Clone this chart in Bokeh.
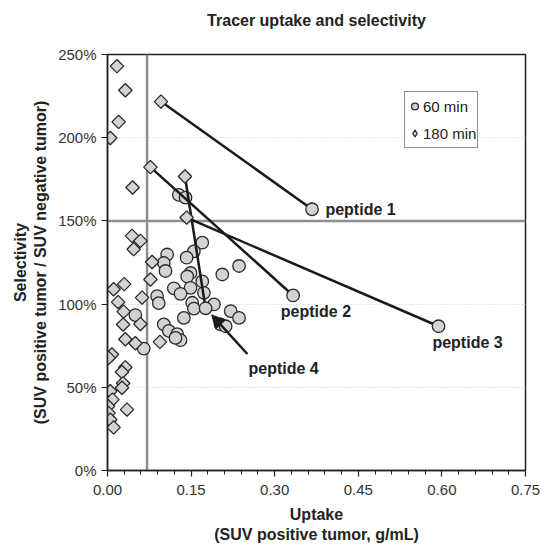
import numpy as np
from bokeh.plotting import figure
from bokeh.models import (Span, FixedTicker, NumeralTickFormatter, Legend, LegendItem,
                          Arrow, NormalHead, ColumnDataSource, Title)
from bokeh.core.properties import value
from bokeh.embed import file_html
from bokeh.resources import INLINE

FONT = "Liberation Sans"

# ---------------- data ----------------
# 60 min (circles), other tracers
x60 = [0.128, 0.140, 0.170, 0.155, 0.107, 0.142, 0.236, 0.101, 0.104, 0.206,
       0.149, 0.143, 0.170, 0.119, 0.149, 0.173, 0.131, 0.089, 0.092, 0.152,
       0.191, 0.155, 0.137, 0.221, 0.236, 0.203, 0.212, 0.101, 0.110, 0.125,
       0.131, 0.122, 0.050, 0.065]
y60 = [1.657, 1.640, 1.369, 1.317, 1.298, 1.279, 1.229, 1.247, 1.199, 1.178,
       1.187, 1.166, 1.136, 1.095, 1.098, 1.068, 1.062, 1.048, 1.006, 1.008,
       0.998, 0.973, 0.917, 0.958, 0.917, 0.878, 0.867, 0.878, 0.839, 0.819,
       0.783, 0.797, 0.934, 0.733]

# 180 min (diamonds), other tracers
x180 = [0.017, 0.032, 0.020, 0.005, 0.045, 0.044, 0.059, 0.047, 0.080, 0.077,
        0.030, 0.011, 0.019, 0.062, 0.029, 0.059, 0.028, 0.032, 0.050, 0.094,
        0.008, 0.002, 0.032, 0.026, 0.028, 0.026, 0.005, 0.009, 0.035, 0.001,
        0.002, 0.005, 0.011]
y180 = [2.430, 2.285, 2.095, 1.998, 1.701, 1.410, 1.380, 1.330, 1.253, 1.148,
        1.120, 1.089, 1.012, 1.039, 0.955, 0.880, 0.877, 0.789, 0.765, 0.773,
        0.697, 0.677, 0.620, 0.592, 0.524, 0.497, 0.476, 0.426, 0.366, 0.386,
        0.345, 0.305, 0.259]

# highlighted peptides: 180 min -> 60 min
pep_names = ["peptide 1", "peptide 2", "peptide 3", "peptide 4"]
pep_x180 = [0.096, 0.077, 0.142, 0.139]
pep_y180 = [2.217, 1.823, 1.520, 1.767]
pep_x60 = [0.367, 0.333, 0.594, 0.176]
pep_y60 = [1.570, 1.052, 0.867, 0.975]

# label anchor positions (left edge, vertical middle)
lab_x = [0.391, 0.311, 0.583, 0.253]
lab_y = [1.566, 0.954, 0.770, 0.610]

# arrow for peptide 4 (from label towards its point)
arrow_start = (0.251, 0.700)
arrow_end = (0.187, 0.935)

# reference thresholds
x_threshold = 0.071
y_threshold = 1.50

x_ticks = [0.0, 0.15, 0.30, 0.45, 0.60, 0.75]
x_minor = [0.03, 0.06, 0.09, 0.12, 0.18, 0.21, 0.24, 0.27, 0.33, 0.36, 0.39, 0.42,
           0.48, 0.51, 0.54, 0.57, 0.63, 0.66, 0.69, 0.72]
y_ticks = [0.0, 0.5, 1.0, 1.5, 2.0, 2.5]

TITLE = "Tracer uptake and selectivity"

# ---------------- figure ----------------
W, H = 541, 548
p = figure(width=W, height=H, x_range=(0, 0.75), y_range=(0, 2.5),
           output_backend="svg", toolbar_location=None,
           min_border_left=107, min_border_right=16, min_border_top=54,
           min_border_bottom=78, title=TITLE)

p.title.align = "center"
p.title.text_font = FONT
p.title.text_font_size = "16px"
p.title.text_font_style = "bold"
p.title.text_color = "#222222"
p.title.standoff = 10
# empty spacer between the title and the frame
p.add_layout(Title(text=" ", text_font_size="10px", standoff=8), "above")

p.outline_line_color = "#222222"
p.outline_line_width = 1.5
p.background_fill_color = "white"

p.xgrid.visible = False
p.ygrid.grid_line_color = "#cfcfcf"
p.ygrid.grid_line_dash = "1 2"
p.ygrid.grid_line_width = 1

p.xaxis.ticker = FixedTicker(ticks=x_ticks, minor_ticks=x_minor)
p.xaxis.formatter = NumeralTickFormatter(format="0.00")
p.yaxis.ticker = FixedTicker(ticks=y_ticks)
p.yaxis.formatter = NumeralTickFormatter(format="0%")
p.yaxis.minor_tick_line_color = None

for ax in (p.xaxis[0], p.yaxis[0]):
    ax.axis_line_color = "#222222"
    ax.axis_line_width = 1.5
    ax.major_tick_line_color = "#222222"
    ax.major_tick_line_width = 1.2
    ax.major_tick_in = 0
    ax.major_tick_out = 6
    ax.major_label_text_font = FONT
    ax.major_label_text_font_size = "15px"
    ax.major_label_text_color = "#333333"
    ax.axis_label_text_font = FONT
    ax.axis_label_text_font_size = "16px"
    ax.axis_label_text_font_style = "bold"
    ax.axis_label_text_color = "#222222"

p.xaxis.minor_tick_line_color = "#222222"
p.xaxis.minor_tick_in = 0
p.xaxis.minor_tick_out = 4
p.xaxis.major_label_standoff = 8
p.yaxis.major_label_standoff = 5
p.xaxis.axis_label_standoff = 8
p.yaxis.axis_label_standoff = 6
p.xaxis.axis_label = "Uptake\n(SUV positive tumor, g/mL)"
p.yaxis.axis_label = "Selectivity\n(SUV positive tumor / SUV negative tumor)"

# threshold lines
p.add_layout(Span(location=x_threshold, dimension="height", line_color="#8f8f8f",
                  line_width=2.5, level="underlay"))
p.add_layout(Span(location=y_threshold, dimension="width", line_color="#8f8f8f",
                  line_width=2.5, level="underlay"))

FILL = "#d3d3d7"
EDGE = "#2a2a2a"
CIRCLE_SIZE = 12.5
DIAM_SIZE = 9.5

r60 = p.scatter(x60, y60, marker="circle", size=CIRCLE_SIZE, fill_color=FILL,
                line_color=EDGE, line_width=1.3)
# legend swatch for the diamonds (legend glyphs are drawn unrotated): a diamond marker
# on the same points, drawn tiny underneath the rotated squares
r180_key = p.scatter(x180, y180, marker="diamond", size=2, fill_color=FILL,
                     line_color=EDGE, line_width=1.3)
r180 = p.scatter(x180, y180, marker="square", angle=np.pi / 4, size=DIAM_SIZE,
                 fill_color=FILL, line_color=EDGE, line_width=1.3)

# peptide connecting lines
seg = ColumnDataSource(dict(x0=pep_x180, y0=pep_y180, x1=pep_x60, y1=pep_y60))
p.segment(x0="x0", y0="y0", x1="x1", y1="y1", source=seg, line_color="#1a1a1a",
          line_width=2.5)

p.scatter(pep_x60, pep_y60, marker="circle", size=CIRCLE_SIZE, fill_color=FILL,
          line_color=EDGE, line_width=1.3)
p.scatter(pep_x180, pep_y180, marker="square", angle=np.pi / 4, size=DIAM_SIZE,
          fill_color=FILL, line_color=EDGE, line_width=1.3)

p.add_layout(Arrow(end=NormalHead(size=13, fill_color="#1a1a1a", line_color="#1a1a1a"),
                   x_start=arrow_start[0], y_start=arrow_start[1],
                   x_end=arrow_end[0], y_end=arrow_end[1],
                   line_color="#1a1a1a", line_width=2.5))

p.text(x=lab_x, y=lab_y, text=pep_names, text_font=value(FONT), text_font_size="16px",
       text_font_style="bold", text_color="#222222", text_baseline="middle",
       text_align="left")

legend = Legend(items=[LegendItem(label="60 min", renderers=[r60]),
                       LegendItem(label="180 min", renderers=[r180_key])],
                location=(297, 322), orientation="vertical")
legend.label_text_font = FONT
legend.label_text_font_size = "15px"
legend.label_text_color = "#222222"
legend.border_line_color = "#222222"
legend.border_line_width = 1.5
legend.background_fill_color = "white"
legend.background_fill_alpha = 1
legend.padding = 1
legend.margin = 0
legend.spacing = 1
legend.glyph_width = 17
legend.glyph_height = 26
legend.label_height = 26
legend.label_standoff = 0
p.add_layout(legend)

open("out.html", "w").write(file_html(p, INLINE))
